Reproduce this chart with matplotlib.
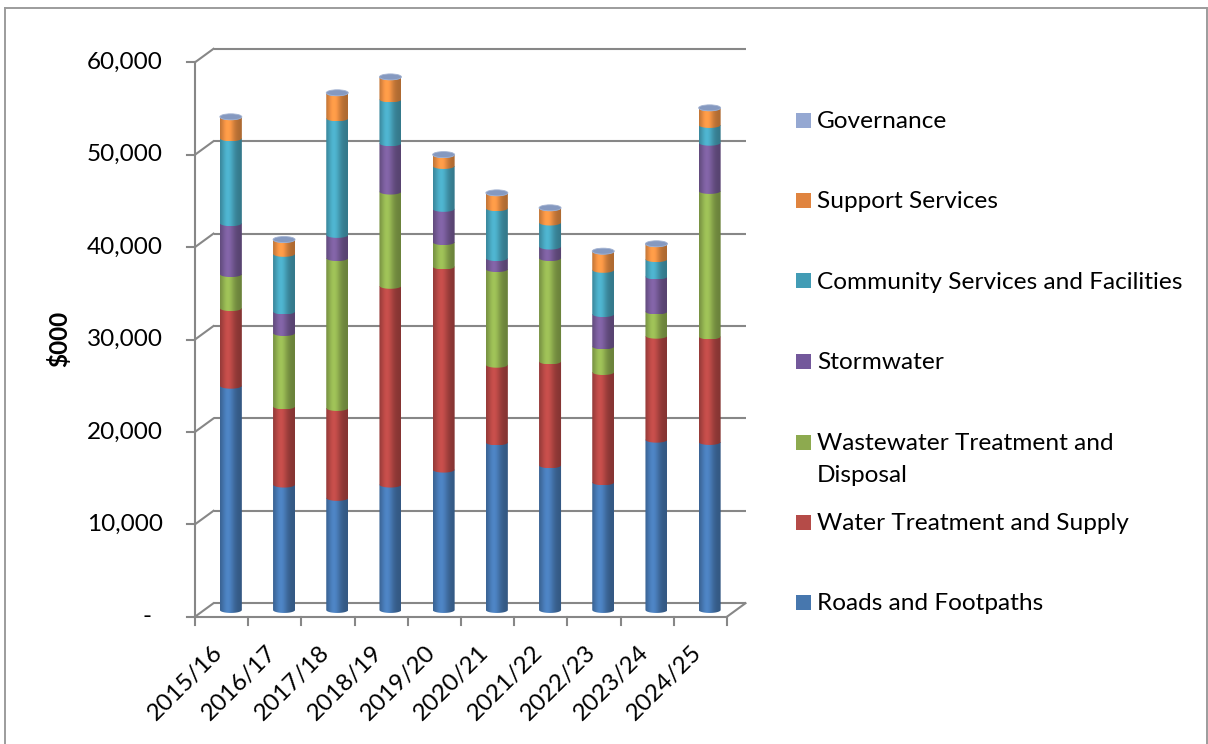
import numpy as np
import matplotlib
matplotlib.use("Agg")
import matplotlib.pyplot as plt
from matplotlib.path import Path
from matplotlib.patches import PathPatch, Ellipse, Rectangle
from matplotlib.lines import Line2D
from matplotlib.colors import to_rgb

# ---------------------------------------------------------------- data ($000)
categories = ["2015/16", "2016/17", "2017/18", "2018/19", "2019/20",
              "2020/21", "2021/22", "2022/23", "2023/24", "2024/25"]

roads = [24270, 13570, 12130, 13570, 15190, 18140, 15660, 13820, 18430, 18180]
water = [8400, 8460, 9730, 21510, 21980, 8400, 11240, 11930, 11250, 11420]
wastewater = [3680, 7940, 16220, 10200, 2640, 10350, 11180, 2770, 2620, 15750]
stormwater = [5510, 2330, 2510, 5230, 3600, 1190, 1250, 3500, 3790, 5220]
community = [9190, 6240, 12620, 4750, 4640, 5400, 2600, 4790, 1880, 1920]
support = [2270, 1510, 2700, 2380, 1190, 1620, 1550, 1980, 1620, 1800]
governance = [50, 40, 60, 50, 40, 40, 40, 40, 40, 50]

series_names = ["Roads and Footpaths", "Water Treatment and Supply",
                "Wastewater Treatment and\nDisposal", "Stormwater",
                "Community Services and Facilities", "Support Services",
                "Governance"]
series_values = [roads, water, wastewater, stormwater, community, support,
                 governance]
bar_colors = ["#4A7EBB", "#BE4B48", "#98B954", "#7D60A0", "#4BACC6",
              "#F79646", "#8FA3CA"]
key_colors = ["#4777AE", "#B54B48", "#8DAA4F", "#73589B", "#429CB5",
              "#E0843F", "#95A8D2"]

y_ticks = [0, 10000, 20000, 30000, 40000, 50000, 60000]

# ---------------------------------------------------------------- layout
W, H, DPI = 1208, 744, 100
fig = plt.figure(figsize=(W / DPI, H / DPI), dpi=DPI)
fig.patch.set_facecolor("white")


def fx(px):
    return px / W


def fy(py):
    return 1 - py / H


AX_L, AX_R, AX_T, AX_B = 195, 727, 62.3, 616.7
ax = fig.add_axes([fx(AX_L), fy(AX_B), (AX_R - AX_L) / W, (AX_B - AX_T) / H])
YMAX = 60000
NCAT = len(categories)

ux = NCAT / (AX_R - AX_L)       # data units per pixel, x
uy = YMAX / (AX_B - AX_T)       # data units per pixel, y

# depth of the 3-D box
DX, DY = 18.5 * ux, 13.5 * uy

FONT = ["Lato", "DejaVu Sans"]
GRID = "#878787"
GLW = 1.5
TICK_FS = 17.5

# outer chart border
for xs, ys in [([5, 5], [8, 744]), ([5, 1206.5], [8, 8]),
               ([1206.5, 1206.5], [8, 744])]:
    fig.add_artist(Line2D([fx(x) for x in xs], [fy(y) for y in ys],
                          transform=fig.transFigure, color="#9C9C9C", lw=1.4))

# back wall gridlines, side-wall connectors and axis ticks
for v in y_ticks:
    ax.plot([DX, NCAT + DX], [v + DY, v + DY], color=GRID, lw=GLW,
            clip_on=False, zorder=1, solid_capstyle="butt")
    ax.plot([0, DX], [v, v + DY], color=GRID, lw=GLW, clip_on=False, zorder=1)
    ax.plot([-8 * ux, 0], [v, v], color=GRID, lw=GLW, clip_on=False, zorder=1)
    label = "-" if v == 0 else f"{v:,}"
    xpos = -43 * ux if v == 0 else -32 * ux
    ax.text(xpos, v, label, ha="right", va="center", fontsize=TICK_FS,
            family=FONT, color="black")

# front vertical axis and floor
ax.plot([0, 0], [0, YMAX], color=GRID, lw=GLW, clip_on=False, zorder=1)
ax.plot([0, NCAT], [0, 0], color=GRID, lw=GLW, clip_on=False, zorder=1)
ax.plot([NCAT, NCAT + DX], [0, DY], color=GRID, lw=GLW, clip_on=False,
        zorder=1)
for k in range(NCAT + 1):
    ax.plot([k, k], [0, -8 * uy], color=GRID, lw=GLW, clip_on=False, zorder=1)

# category labels
for i, cat in enumerate(categories):
    ax.text(i + 0.5 + 5.5 * ux, -25 * uy, cat, rotation=45, ha="right",
            va="top", fontsize=TICK_FS, family=FONT, color="black")

# axis title
fig.text(fx(59), fy(339), "$000", rotation=90, ha="center", va="center",
         fontsize=17.5, fontweight="bold", family=FONT)

# ---------------------------------------------------------------- cylinders
BAR_W = 22 * ux
EH = 3.0 * uy                   # half height of the elliptical ends
t = np.linspace(0, 1, 96)
shade = 0.70 + 0.36 * np.exp(-((t - 0.36) / 0.3) ** 2)


def segment_path(x0, x1, yb, yt):
    xc = 0.5 * (x0 + x1)
    ang = np.linspace(np.pi, 2 * np.pi, 40)
    arc = np.column_stack([xc + 0.5 * (x1 - x0) * np.cos(ang),
                           yb + EH * np.sin(ang)])
    verts = np.vstack([[x0, yt], [x0, yb], arc, [x1, yt], [x0, yt]])
    codes = [Path.MOVETO] + [Path.LINETO] * (len(verts) - 2) + [Path.CLOSEPOLY]
    return Path(verts, codes)


base_y = DY / 2
for i in range(NCAT):
    xc = i + 0.5 + DX / 2
    x0, x1 = xc - BAR_W / 2, xc + BAR_W / 2
    bottom = base_y
    for s, vals in enumerate(series_values):
        v = vals[i]
        if v <= 0:
            continue
        top = bottom + v
        rgb = np.array(to_rgb(bar_colors[s]))
        grad = np.clip(shade[:, None] * rgb[None, :], 0, 1)[None, :, :]
        path = segment_path(x0, x1, bottom, top)
        patch = PathPatch(path, transform=ax.transData, facecolor="none",
                          edgecolor="none")
        im = ax.imshow(grad, extent=(x0, x1, bottom - EH, top),
                       aspect="auto", interpolation="bilinear", zorder=3 + s,
                       origin="lower")
        im.set_clip_path(patch)
        bottom = top
    # top cap
    ax.add_patch(Ellipse((xc, bottom), BAR_W, 2 * EH, facecolor="#8599C0",
                         edgecolor="#A3B3D2", lw=0.6, zorder=20))

ax.set_xlim(0, NCAT)
ax.set_ylim(0, YMAX)
ax.axis("off")

# ---------------------------------------------------------------- legend
legend_rows = [  # (series index, baseline y in px of first line)
    (6, 128.3), (5, 208.3), (4, 289.0), (3, 369.0), (2, 450.0),
    (1, 530.0), (0, 610.0)]
LINE_STEP = 31.7
for s, base in legend_rows:
    fig.add_artist(Rectangle((fx(796), fy(base - 0.5)), 14.7 / W, 15 / H,
                             transform=fig.transFigure,
                             facecolor=key_colors[s], edgecolor="none"))
    for k, line in enumerate(series_names[s].split("\n")):
        fig.text(fx(817), fy(base + k * LINE_STEP), line, ha="left",
                 va="baseline", fontsize=17.6, family=FONT, color="black")

fig.savefig("out.png", dpi=DPI, facecolor="white")
